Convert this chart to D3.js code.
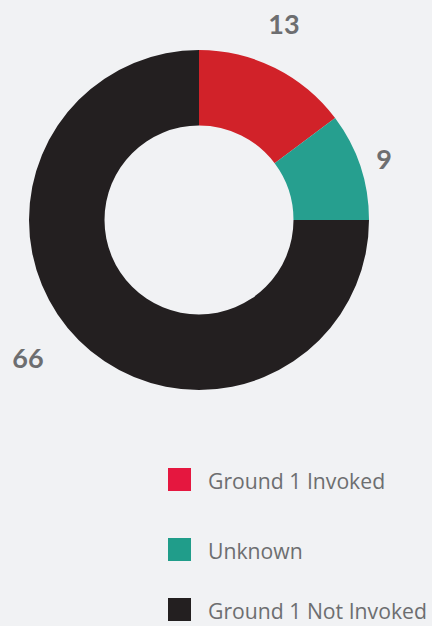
<!DOCTYPE html>
<html><head><meta charset="utf-8">
<script src="https://cdn.jsdelivr.net/npm/d3@7"></script>
<style>html,body{margin:0;padding:0;background:#f1f2f4;}svg{display:block;}</style>
</head><body>
<script>
const categories = ["Ground 1 Invoked", "Unknown", "Ground 1 Not Invoked"];
const values = [13, 9, 66];
const sliceColors = ["#d12229", "#269f8f", "#231f20"];
const legendColors = ["#e5173f", "#209d8a", "#231f20"];

const W = 432, H = 626;
const svg = d3.select("body").append("svg").attr("width", W).attr("height", H);
svg.append("rect").attr("width", W).attr("height", H).attr("fill", "#f1f2f4");

const cx = 199, cy = 220, R = 170, r = 94.5;
const pie = d3.pie().sort(null).value(d => d);
const arcs = pie(values);
const arc = d3.arc().innerRadius(r).outerRadius(R);
const g = svg.append("g").attr("transform", `translate(${cx},${cy})`);
g.selectAll("path").data(arcs).join("path")
  .attr("d", arc).attr("fill", (d, i) => sliceColors[i]);

// labels outside
const labelPos = [[284, 23], [384, 158], [28, 357]];
svg.selectAll("text.val").data(arcs).join("text")
  .attr("class", "val")
  .attr("x", (d, i) => labelPos[i][0])
  .attr("y", (d, i) => labelPos[i][1])
  .attr("text-anchor", "middle").attr("dominant-baseline", "central")
  .attr("font-family", "Lato, sans-serif").attr("font-weight", "bold")
  .attr("font-size", 27).attr("fill", "#6d6e70")
  .text(d => d.data);

// legend
const legendY = [468, 538, 598];
const lg = svg.selectAll("g.leg").data(categories).join("g")
  .attr("class", "leg")
  .attr("transform", (d, i) => `translate(168,${legendY[i]})`);
lg.append("rect").attr("width", 23).attr("height", 23)
  .attr("fill", (d, i) => legendColors[i]);
lg.append("text").attr("x", 40).attr("y", 20.5)
  .attr("font-family", "'Open Sans', sans-serif").attr("font-size", 21.2)
  .attr("fill", "#6d6e70").text(d => d);
</script>
</body></html>
